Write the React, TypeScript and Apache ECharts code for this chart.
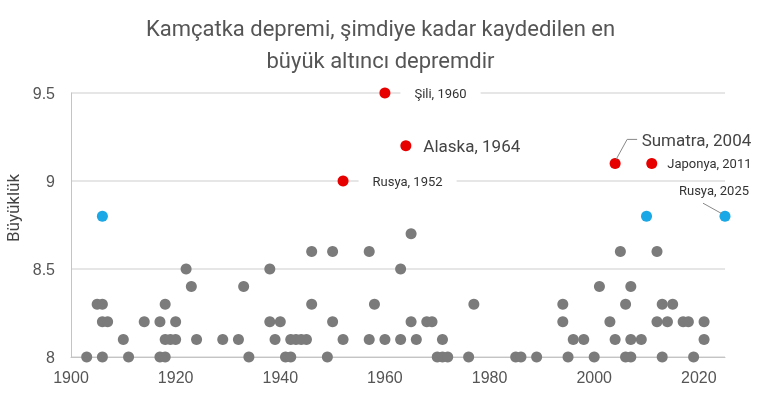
import React, { useEffect, useRef } from "react";
import * as echarts from "echarts";

const TITLE = "Kamçatka depremi, şimdiye kadar kaydedilen en\nbüyük altıncı depremdir";
const Y_NAME = "Büyüklük";
const X_MIN = 1900;
const X_MAX = 2025;
const X_STEP = 20;
const Y_MIN = 8;
const Y_MAX = 9.5;
const Y_STEP = 0.5;

// Other large earthquakes (gray), grouped by magnitude
const gray80 = [1903, 1906, 1911, 1917, 1918, 1934, 1941, 1942, 1949, 1970, 1971, 1972, 1976, 1985, 1986, 1989, 1995, 2000, 2006, 2007, 2013, 2019];
const gray81 = [1910, 1918, 1919, 1920, 1924, 1929, 1932, 1939, 1942, 1943, 1944, 1945, 1952, 1957, 1960, 1963, 1966, 1971, 1996, 1998, 2004, 2007, 2009, 2021];
const gray82 = [1906, 1907, 1914, 1917, 1920, 1938, 1940, 1950, 1965, 1968, 1969, 1994, 2003, 2012, 2014, 2017, 2018, 2021];
const gray83 = [1905, 1906, 1918, 1946, 1958, 1977, 1994, 2006, 2013, 2015];
const gray84 = [1923, 1933, 2001, 2007];
const gray85 = [1922, 1938, 1963];
const gray86 = [1946, 1950, 1957, 2005, 2012];
const gray87 = [1965];

// Top-5 earthquakes (red)
const redYears = [1952, 1960, 1964, 2004, 2011];
const redMags = [9.0, 9.5, 9.2, 9.1, 9.1];
const redNames = ["Rusya, 1952", "Şili, 1960", "Alaska, 1964", "Sumatra, 2004", "Japonya, 2011"];

// Kamchatka region (blue)
const blueYears = [1906, 2010, 2025];
const blueMags = [8.8, 8.8, 8.8];
const blueNames = ["", "", "Rusya, 2025"];

const GRAY = "#7b7b7b";
const RED = "#e60000";
const BLUE = "#1ba8e6";
const FONT = "Roboto";
const TICK_FONT = "Liberation Sans";

export default function App() {
  const ref = useRef<HTMLDivElement>(null);
  useEffect(() => {
    if (!ref.current) return;
    const chart = echarts.init(ref.current, undefined, { renderer: "svg" });

    const grayData: number[][] = [];
    const groups: [number[], number][] = [
      [gray80, 8.0], [gray81, 8.1], [gray82, 8.2], [gray83, 8.3],
      [gray84, 8.4], [gray85, 8.5], [gray86, 8.6], [gray87, 8.7],
    ];
    groups.forEach(([ys, m]) => ys.forEach((y) => grayData.push([y, m])));

    const smallLabel = {
      fontFamily: FONT, fontSize: 13, color: "#333",
    };
    const bigLabel = {
      fontFamily: FONT, fontSize: 17, color: "#444",
    };

    const redLabelCfg: any[] = [
      { show: true, position: "right", distance: 10, ...smallLabel, backgroundColor: "#fff", padding: [2, 14] },
      { show: true, position: "right", distance: 10, ...smallLabel, backgroundColor: "#fff", padding: [2, 14] },
      { show: true, position: "right", distance: 12, ...bigLabel },
      { show: true, position: "right", distance: 5, offset: [16, -23], ...bigLabel },
      { show: true, position: "right", distance: 10, ...smallLabel },
    ];

    const redData = redYears.map((y, i) => ({
      value: [y, redMags[i]],
      label: { ...redLabelCfg[i], formatter: redNames[i] },
    }));
    const blueData = blueYears.map((y, i) => ({
      value: [y, blueMags[i]],
      label: blueNames[i]
        ? { show: true, position: "top", offset: [-11, -9], formatter: blueNames[i], ...smallLabel }
        : { show: false },
    }));

    chart.setOption({
      animation: false,
      title: {
        text: TITLE,
        left: "center",
        top: 7,
        textStyle: { fontFamily: FONT, fontSize: 22, fontWeight: "normal", color: "#555", lineHeight: 32 },
      },
      grid: { left: 71, right: 36, top: 93, bottom: 41, containLabel: false, outerBoundsMode: "none" },
      xAxis: {
        type: "value",
        min: X_MIN,
        max: X_MAX,
        interval: X_STEP,
        axisLine: { show: true, lineStyle: { color: "#c4c4c4", width: 1 } },
        axisTick: { show: false },
        splitLine: { show: false },
        axisLabel: {
          fontFamily: TICK_FONT, fontSize: 16, color: "#555", margin: 12, showMaxLabel: false,
          formatter: (v: number) => String(v),
        },
      },
      yAxis: {
        type: "value",
        min: Y_MIN,
        max: Y_MAX,
        interval: Y_STEP,
        name: Y_NAME,
        nameLocation: "middle",
        nameGap: 49,
        nameTextStyle: { fontFamily: FONT, fontSize: 17, color: "#444", padding: [0, 0, 0, 34] },
        axisLine: { show: true, lineStyle: { color: "#c4c4c4", width: 1 } },
        axisTick: { show: false },
        splitLine: { show: true, lineStyle: { color: "#dedede", width: 1.5 } },
        axisLabel: { fontFamily: TICK_FONT, fontSize: 16, color: "#555", margin: 16 },
      },
      series: [
        {
          type: "scatter",
          data: grayData,
          symbolSize: 11,
          itemStyle: { color: GRAY, opacity: 1 },
          z: 2,
        },
        {
          type: "scatter",
          data: redData,
          symbolSize: 11,
          itemStyle: { color: RED, opacity: 1 },
          z: 3,
        },
        {
          type: "scatter",
          data: blueData,
          symbolSize: 11,
          itemStyle: { color: BLUE, opacity: 1 },
          z: 3,
        },
      ],
    });

    // Leader lines, anchored to the points through the chart's own scales
    const sum = chart.convertToPixel({ gridIndex: 0 }, [redYears[3], redMags[3]]) as number[];
    const rus = chart.convertToPixel({ gridIndex: 0 }, [blueYears[2], blueMags[2]]) as number[];
    chart.setOption({
      graphic: [
        {
          type: "polyline",
          shape: { points: [[sum[0] + 1, sum[1] - 4], [sum[0] + 12, sum[1] - 24], [sum[0] + 22, sum[1] - 24]] },
          style: { stroke: "#888", lineWidth: 1, fill: "none" },
          z: 10,
        },
        {
          type: "line",
          shape: { x1: rus[0] - 22, y1: rus[1] - 13, x2: rus[0] - 4, y2: rus[1] - 3 },
          style: { stroke: "#888", lineWidth: 1 },
          z: 10,
        },
      ],
    });

    return () => chart.dispose();
  }, []);
  return <div ref={ref} style={{ position: "fixed", left: 0, top: 0, width: 761, height: 398 }} />;
}
